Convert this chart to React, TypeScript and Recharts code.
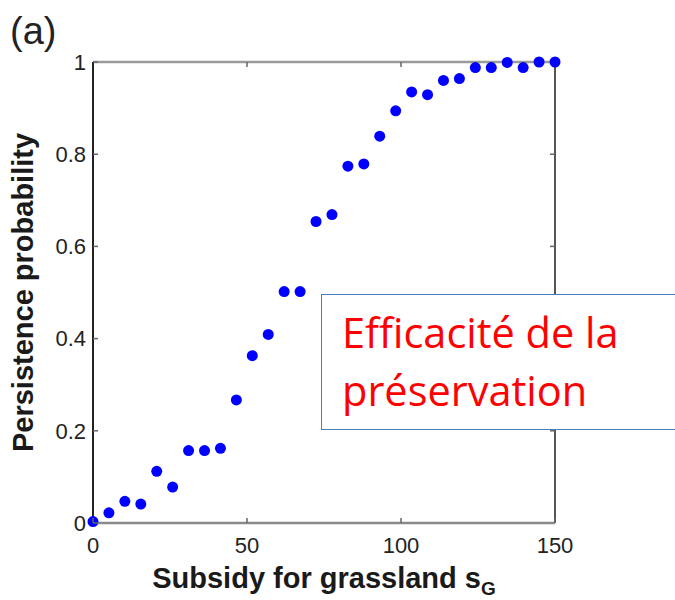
import { ScatterChart, Scatter, XAxis, YAxis, Label } from 'recharts'

// subsidy values (30 runs from 0 to 150)
const subsidy = [
  0, 5.17, 10.34, 15.52, 20.69, 25.86, 31.03, 36.21, 41.38, 46.55,
  51.72, 56.9, 62.07, 67.24, 72.41, 77.59, 82.76, 87.93, 93.1, 98.28,
  103.45, 108.62, 113.79, 118.97, 124.14, 129.31, 134.48, 139.66, 144.83, 150,
]
const persistence = [
  0.003, 0.022, 0.047, 0.041, 0.112, 0.078, 0.157, 0.157, 0.162, 0.267,
  0.363, 0.409, 0.502, 0.502, 0.654, 0.669, 0.774, 0.779, 0.839, 0.894,
  0.935, 0.929, 0.96, 0.964, 0.988, 0.988, 0.999, 0.988, 1, 1,
]
const xTicks = [0, 50, 100, 150]
const yTicks = [0, 0.2, 0.4, 0.6, 0.8, 1]
const topTicks = [50, 100]
const rightTicks = [0.2, 0.4, 0.6, 0.8]

const points = subsidy.map((x, i) => ({ x, y: persistence[i] }))

const axisFont = '"Liberation Sans", Arial, sans-serif'
const TICK_LEN = 5
const tickColor = '#666'

const BlueDot = (props: any) => <circle cx={props.cx} cy={props.cy} r={5.5} fill="#0000ff" />
const NoDot = () => <g />

// MATLAB-style ticks point into the plot, so the tick line is drawn by the tick renderer
const BottomTick = ({ x, y, payload }: any) => {
  const axisY = y - 14
  return (
    <g>
      <line x1={x} x2={x} y1={axisY} y2={axisY - TICK_LEN} stroke={tickColor} strokeWidth={1.5} />
      <text x={x} y={y} dy="0.71em" textAnchor="middle" fill="#222" fontSize={22} fontFamily={axisFont}>
        {payload.value}
      </text>
    </g>
  )
}

const LeftTick = ({ x, y, payload }: any) => {
  const axisX = x + 7
  return (
    <g>
      <line x1={axisX} x2={axisX + TICK_LEN} y1={y} y2={y} stroke={tickColor} strokeWidth={1.5} />
      <text x={x} y={y} dy="0.355em" textAnchor="end" fill="#222" fontSize={22} fontFamily={axisFont}>
        {payload.value}
      </text>
    </g>
  )
}

const TopTick = ({ x, y }: any) => (
  <line x1={x} x2={x} y1={y} y2={y + TICK_LEN} stroke={tickColor} strokeWidth={1.5} />
)

const RightTick = ({ x, y }: any) => (
  <line x1={x} x2={x - TICK_LEN} y1={y} y2={y} stroke={tickColor} strokeWidth={1.5} />
)

const XTitle = ({ viewBox }: any) => {
  const { x, y, width } = viewBox
  return (
    <text x={x + width / 2} y={y + 65} textAnchor="middle" fontFamily={axisFont} fontWeight="bold" fontSize={29} fill="#1a1a1a">
      <tspan>Subsidy for grassland s</tspan>
      <tspan fontSize={19} dy={7}>G</tspan>
    </text>
  )
}

const YTitle = ({ viewBox }: any) => {
  const { x, y, height } = viewBox
  return (
    <text transform={`translate(${x}, ${y + height / 2}) rotate(-90)`} textAnchor="middle" fontFamily={axisFont} fontWeight="bold" fontSize={29} fill="#1a1a1a">
      Persistence probability
    </text>
  )
}

export default function App() {
  return (
    <div style={{ position: 'absolute', left: 0, top: 0, width: 675, height: 600, overflow: 'hidden', background: '#fff' }}>
      <div style={{ position: 'absolute', left: 10, top: 12, fontFamily: axisFont, fontSize: 38, lineHeight: '38px', color: '#222' }}>(a)</div>
      <ScatterChart width={675} height={600} margin={{ top: 61, right: 119, bottom: 37, left: 33 }}>
        <XAxis
          xAxisId="b"
          type="number"
          dataKey="x"
          domain={[0, 150]}
          ticks={xTicks}
          height={40}
          axisLine={{ stroke: '#8a8a8a', strokeWidth: 2.5 }}
          tickLine={false}
          tickSize={0}
          tickMargin={14}
          tick={BottomTick}
        >
          <Label content={XTitle} />
        </XAxis>
        <XAxis
          xAxisId="t"
          type="number"
          dataKey="x"
          orientation="top"
          domain={[0, 150]}
          ticks={topTicks}
          height={1}
          axisLine={{ stroke: '#9a9a9a', strokeWidth: 2.5 }}
          tickLine={false}
          tickSize={0}
          tickMargin={0}
          tick={TopTick}
        />
        <YAxis
          yAxisId="l"
          type="number"
          dataKey="y"
          domain={[0, 1]}
          ticks={yTicks}
          width={60}
          axisLine={{ stroke: '#222', strokeWidth: 2 }}
          tickLine={false}
          tickSize={0}
          tickMargin={7}
          tick={LeftTick}
        >
          <Label content={YTitle} />
        </YAxis>
        <YAxis
          yAxisId="r"
          type="number"
          dataKey="y"
          orientation="right"
          domain={[0, 1]}
          ticks={rightTicks}
          width={1}
          axisLine={{ stroke: '#555', strokeWidth: 2 }}
          tickLine={false}
          tickSize={0}
          tickMargin={0}
          tick={RightTick}
        />
        <Scatter xAxisId="t" yAxisId="r" data={points} shape={NoDot} isAnimationActive={false} />
        <Scatter xAxisId="b" yAxisId="l" data={points} shape={BlueDot} isAnimationActive={false} />
      </ScatterChart>
      <div
        style={{
          position: 'absolute',
          left: 321,
          top: 294,
          width: 420,
          height: 136,
          boxSizing: 'border-box',
          border: '1.5px solid #4a7ebb',
          background: '#fff',
          zIndex: 10,
          paddingTop: 8,
          paddingLeft: 20,
          fontFamily: '"Open Sans", sans-serif',
          fontSize: 41.5,
          lineHeight: '58px',
          color: '#ff0000',
          whiteSpace: 'nowrap',
        }}
      >
        Efficacité de la
        <br />
        préservation
      </div>
    </div>
  )
}
